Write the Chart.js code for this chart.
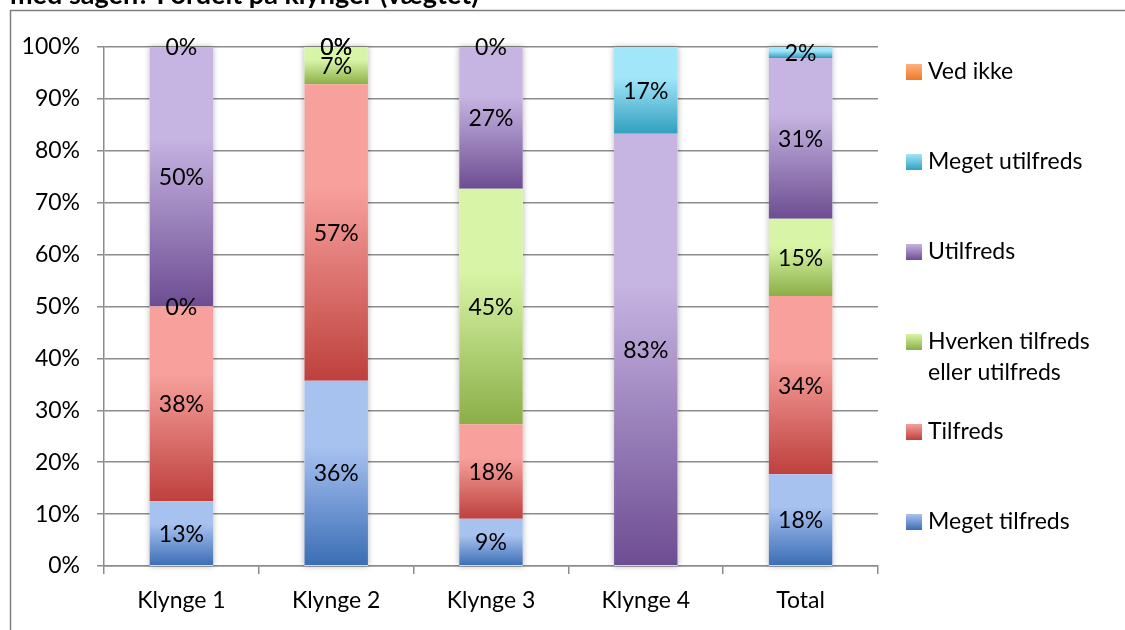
<!DOCTYPE html>
<html>
<head>
<meta charset="utf-8">
<script src="https://cdn.jsdelivr.net/npm/chart.js@4/dist/chart.umd.min.js"></script>
<style>
  html, body { margin: 0; padding: 0; background: #fff; overflow: hidden; }
  #wrap { position: absolute; left: 0; top: 0; width: 1125px; height: 630px; }
</style>
</head>
<body>
<div id="wrap"><canvas id="grafico" width="1125" height="630"></canvas></div>
<script>
// data (percent)
const klynger = ["Klynge 1", "Klynge 2", "Klynge 3", "Klynge 4", "Total"];
const serieNavne = ["Meget tilfreds", "Tilfreds", "Hverken tilfreds eller utilfreds", "Utilfreds", "Meget utilfreds", "Ved ikke"];
const megetTilfreds = [12.5, 35.7, 9.1, null, 17.7];
const tilfreds = [37.5, 57.1, 18.2, null, 34.3];
const hverken = [0, 7.2, 45.4, null, 14.9];
const utilfreds = [50, 0, 27.3, 83.3, 31.0];
const megetUtilfreds = [0, 0, 0, 16.7, 2.1];
const vedIkke = [null, null, null, null, null];
const yTicks = [0, 10, 20, 30, 40, 50, 60, 70, 80, 90, 100];

const serier = [megetTilfreds, tilfreds, hverken, utilfreds, megetUtilfreds, vedIkke];

// colours: light top, dark bottom
const lys = ["#a8c2f0", "#f7a09c", "#d8f5a7", "#c6b4e2", "#a2e6fa", "#fcb27e"];
const mork = ["#3a6db5", "#be403d", "#8cae47", "#6d4d92", "#31a0bf", "#ef7a27"];

const FONT = "Lato";
const gridFarve = "#8c8c8c";

function gradient(context, i) {
  const chart = context.chart;
  const y = chart.scales.y;
  const j = context.dataIndex;
  if (!chart.chartArea || !y || j === undefined) return mork[i];
  let start = 0;
  for (let k = 0; k < i; k++) start += serier[k][j] || 0;
  const v = serier[i][j] || 0;
  const top = y.getPixelForValue(start + v);
  const bund = y.getPixelForValue(start);
  if (bund - top < 1) return mork[i];
  const g = chart.ctx.createLinearGradient(0, top, 0, bund);
  g.addColorStop(0, lys[i]);
  g.addColorStop(0.35, lys[i]);
  g.addColorStop(1, mork[i]);
  return g;
}

// frame + cut title
const rammePlugin = {
  id: "ramme",
  beforeDraw(chart) {
    const c = chart.ctx;
    c.save();
    c.strokeStyle = "#7f7f7f";
    c.lineWidth = 1.5;
    c.beginPath();
    c.moveTo(10.5, 700);
    c.lineTo(10.5, 10.5);
    c.lineTo(1200, 10.5);
    c.stroke();
    c.fillStyle = "#000";
    c.font = "bold 27px " + FONT;
    c.textBaseline = "alphabetic";
    c.fillText("med sagen? Fordelt på klynger (vægtet)", 10, 4);
    c.restore();
  }
};

// soft shadow behind each stacked bar
const skyggePlugin = {
  id: "skygge",
  beforeDatasetsDraw(chart) {
    const c = chart.ctx;
    const y = chart.scales.y;
    const x = chart.scales.x;
    const ref = chart.getDatasetMeta(3).data;
    c.save();
    c.shadowColor = "rgba(0,0,0,0.3)";
    c.shadowBlur = 6;
    c.fillStyle = "#fff";
    klynger.forEach((_, j) => {
      let total = 0;
      serier.forEach(s => total += s[j] || 0);
      const w = ref[j].width;
      const cx = x.getPixelForValue(j);
      const top = y.getPixelForValue(total);
      const bund = y.getPixelForValue(0);
      c.fillRect(cx - w / 2, top, w, bund - top);
    });
    c.restore();
  }
};

// value labels in each segment
const etiketPlugin = {
  id: "etiketter",
  afterDatasetsDraw(chart) {
    const c = chart.ctx;
    c.save();
    c.font = "23px " + FONT;
    c.fillStyle = "#000";
    c.textAlign = "center";
    c.textBaseline = "middle";
    chart.data.datasets.forEach((ds, i) => {
      const meta = chart.getDatasetMeta(i);
      meta.data.forEach((el, j) => {
        const v = ds.data[j];
        if (v === null || v === undefined) return;
        c.fillText(Math.round(v) + "%", el.x, (el.y + el.base) / 2 + 1);
      });
    });
    c.restore();
  }
};

// legend on the right, reversed order, spaced like the original
const legendePlugin = {
  id: "legende",
  afterDraw(chart) {
    const c = chart.ctx;
    const a = chart.chartArea;
    c.save();
    c.font = "23px " + FONT;
    c.textBaseline = "middle";
    const bx = a.right + 28;
    for (let n = 0; n < serieNavne.length; n++) {
      const i = serieNavne.length - 1 - n;
      const cy = a.top + 25 + 90 * n;
      const g = c.createLinearGradient(0, cy - 8, 0, cy + 8);
      g.addColorStop(0, lys[i]);
      g.addColorStop(1, mork[i]);
      c.fillStyle = g;
      c.fillRect(bx, cy - 8, 16, 16);
      c.fillStyle = "#000";
      if (i === 2) {
        c.fillText("Hverken tilfreds", bx + 22, cy);
        c.fillText("eller utilfreds", bx + 22, cy + 31);
      } else {
        c.fillText(serieNavne[i], bx + 22, cy);
      }
    }
    c.restore();
  }
};

new Chart(document.getElementById("grafico").getContext("2d"), {
  type: "bar",
  data: {
    labels: klynger,
    datasets: serier.map((s, i) => ({
      label: serieNavne[i],
      data: s,
      backgroundColor: (ctx) => gradient(ctx, i),
      borderWidth: 0,
      barPercentage: 0.41,
      categoryPercentage: 1
    }))
  },
  options: {
    responsive: false,
    animation: false,
    layout: { padding: { left: 0, top: 47, right: 247, bottom: 0 } },
    plugins: {
      legend: { display: false },
      tooltip: { enabled: false },
      title: { display: false }
    },
    scales: {
      x: {
        stacked: true,
        grid: { display: true, drawOnChartArea: false, drawTicks: true, tickLength: 8, color: gridFarve, lineWidth: 1.5 },
        border: { color: gridFarve, width: 1.5 },
        ticks: { color: "#000", font: { family: FONT, size: 23 }, padding: 13 },
        afterFit(scale) { scale.height = 64; }
      },
      y: {
        stacked: true,
        min: 0,
        max: 100,
        afterBuildTicks(scale) { scale.ticks = yTicks.map(v => ({ value: v })); },
        grid: { color: gridFarve, lineWidth: 1.5, tickLength: 7 },
        border: { color: gridFarve, width: 1.5 },
        ticks: { color: "#000", font: { family: FONT, size: 23 }, padding: 17, callback: v => v + "%" },
        afterFit(scale) { scale.width = 104; }
      }
    }
  },
  plugins: [rammePlugin, skyggePlugin, etiketPlugin, legendePlugin]
});
</script>
</body>
</html>
